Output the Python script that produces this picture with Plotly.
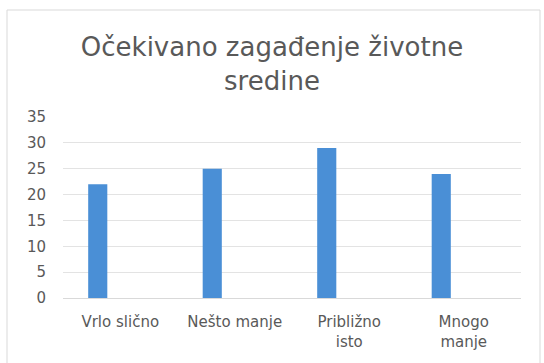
import plotly.graph_objects as go

# Survey answers and counts
categories = ["Vrlo slično", "Nešto manje", "Približno<br>isto", "Mnogo<br>manje"]
counts = [22, 25, 29, 24]
tick_values = [0, 5, 10, 15, 20, 25, 30, 35]

fig = go.Figure()
fig.add_trace(go.Bar(
    x=categories,
    y=counts,
    marker=dict(color="#4a8fd6", line=dict(width=0)),
    width=0.167,
    offset=-0.28,
))

left_px, right_px, top_px, bottom_px = 63, 521, 117, 298
W, H = 544, 363
pw = right_px - left_px
ph = bottom_px - top_px

fig.update_layout(
    width=W,
    height=H,
    margin=dict(l=left_px, r=W - right_px, t=top_px, b=H - bottom_px),
    paper_bgcolor="white",
    plot_bgcolor="white",
    showlegend=False,
    font=dict(family="DejaVu Sans, sans-serif", color="#595959"),
    title=dict(
        text="Očekivano zagađenje životne<br>sredine",
        x=0.5,
        xanchor="center",
        y=1 - 56 / H,
        yanchor="middle",
        font=dict(size=26, color="#595959"),
    ),
    xaxis=dict(
        showgrid=False,
        showline=True,
        linecolor="#d9d9d9",
        linewidth=1,
        ticks="",
        tickfont=dict(size=15, color="#595959"),
        ticklabelstandoff=10,
    ),
    yaxis=dict(
        range=[0, 35],
        tickvals=tick_values,
        showgrid=True,
        gridcolor="#e3e3e3",
        gridwidth=1,
        zeroline=False,
        showline=False,
        ticks="",
        tickfont=dict(size=15, color="#595959"),
        ticklabelstandoff=16,
    ),
    shapes=[
        dict(
            type="rect",
            xref="paper",
            yref="paper",
            x0=(7 - left_px) / pw,
            x1=(540 - left_px) / pw,
            y0=(bottom_px - 370) / ph,
            y1=(bottom_px - 10) / ph,
            line=dict(color="#d9d9d9", width=1),
            fillcolor="rgba(0,0,0,0)",
            layer="below",
        )
    ],
)

fig.write_html("out.html")
